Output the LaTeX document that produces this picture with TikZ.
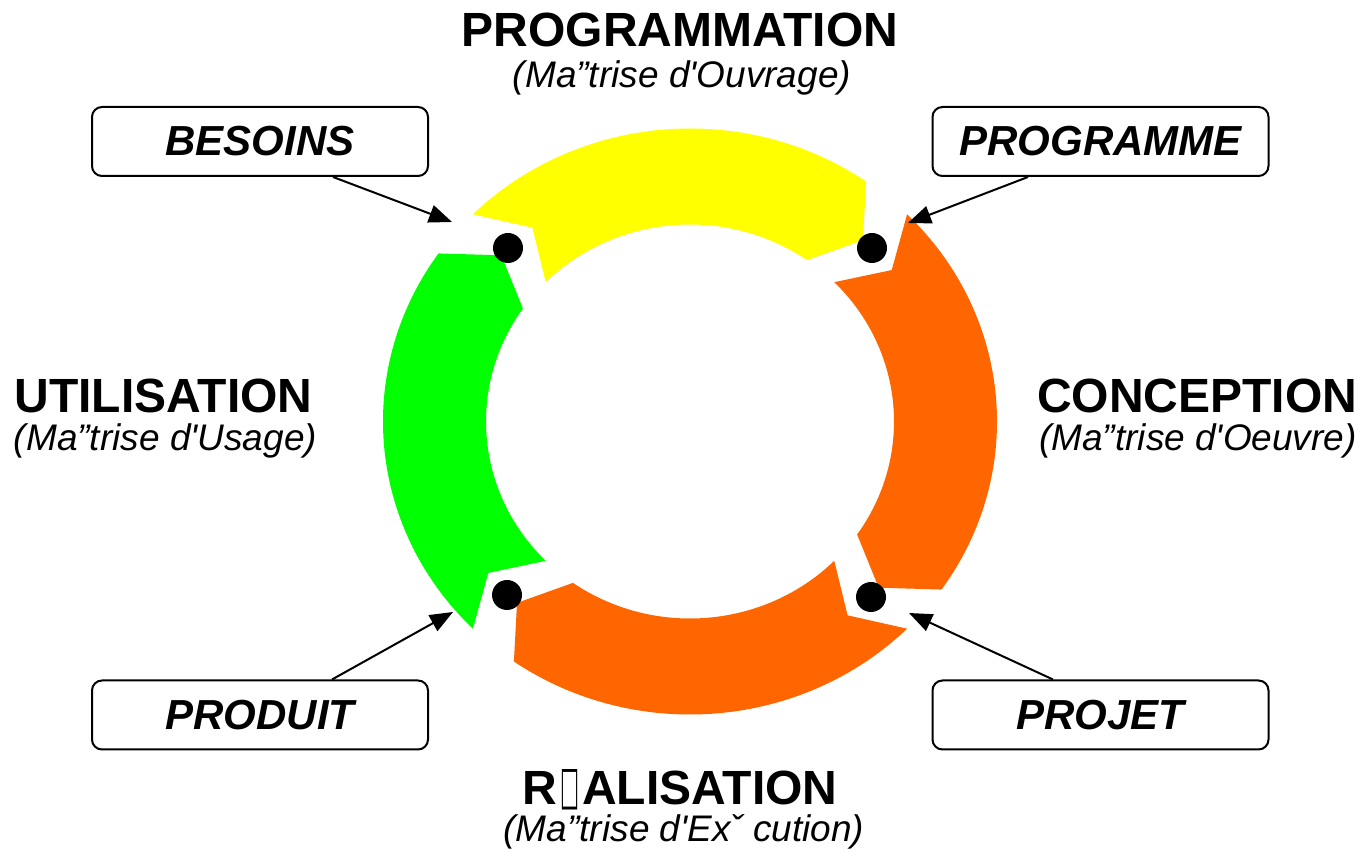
\documentclass[tikz,border=0pt]{standalone}
\usepackage{fontspec}
\setmainfont{Liberation Sans}
\newfontfamily\symfont{DejaVu Sans}
\usepackage{graphicx}
\usetikzlibrary{arrows.meta}
\definecolor{cyellow}{RGB}{255,255,0}
\definecolor{cgreen}{RGB}{0,255,0}
\definecolor{corange}{RGB}{255,102,0}
\newcommand{\ringarrow}[2]{%
  \fill[#1] ({#2}:307pt and 293pt)
    arc[start angle={#2}, end angle={#2-80}, x radius=307pt, y radius=293pt]
    -- ({#2-87.5}:256pt and 246pt)
    -- ({#2-80}:204pt and 197pt)
    arc[start angle={#2-80}, end angle={#2}, x radius=204pt, y radius=197pt]
    -- ({#2-7}:256pt and 246pt) -- cycle;}
\tikzset{
  lbl/.style={draw, line width=2pt, rounded corners=10pt, minimum width=336pt,
    minimum height=69pt, inner sep=0pt, font=\fontsize{42}{50}\selectfont\bfseries\itshape},
  ttl/.style={anchor=base, inner sep=0pt, font=\fontsize{48}{58}\selectfont\bfseries},
  sub/.style={anchor=base, inner sep=0pt, font=\fontsize{37}{44}\selectfont\itshape},
  link/.style={line width=2pt, -{Triangle[length=23pt,width=18pt]}},
  dot/.style={circle, fill=black, minimum size=30pt, inner sep=0pt}
}
\begin{document}
\begin{tikzpicture}[x=1pt,y=1pt]
\useasboundingbox (0,0) rectangle (1369,852);
\begin{scope}[shift={(690,430.5)}]
  \ringarrow{cyellow}{135}
  \ringarrow{corange}{45}
  \ringarrow{corange}{-45}
  \ringarrow{cgreen}{225}
\end{scope}
% dots
\node[dot] (d1) at (508,604) {};
\node[dot] (d2) at (872,604) {};
\node[dot] (d3) at (871,255) {};
\node[dot] (d4) at (507,257) {};
% titles
\node[ttl] (tprog) at (680,805) {PROGRAMMATION};
\node[sub] (sprog) at (682,764) {(Ma”trise d\textquotesingle Ouvrage)};
\node[ttl] (tutil) at (163.5,439) {UTILISATION};
\node[sub] (sutil) at (165.5,401) {(Ma”trise d\textquotesingle Usage)};
\node[ttl] (tconc) at (1197,439) {CONCEPTION};
\node[sub] (sconc) at (1198,401) {(Ma”trise d\textquotesingle Oeuvre)};
\node[ttl] (treal) at (680,48) {R\makebox[25pt]{\raisebox{0pt}[34pt][0pt]{\resizebox{19pt}{34pt}{\symfont □}}}ALISATION};
\node[sub] (sreal) at (684,10) {(Ma”trise d\textquotesingle Exˇ cution)};
% label boxes
\node[lbl] (besoins) at (260,710.5) {BESOINS};
\node[lbl] (programme) at (1100.5,710.5) {PROGRAMME};
\node[lbl] (produit) at (260,137) {PRODUIT};
\node[lbl] (projet) at (1100.5,137) {PROJET};
% arrow tips
\coordinate (tb) at (452,630);
\coordinate (tp) at (908,629);
\coordinate (tu) at (453,240);
\coordinate (tj) at (909,239);
\draw[link] ([xshift=73pt]besoins.south) -- (tb);
\draw[link] ([xshift=-72.5pt]programme.south) -- (tp);
\draw[link] ([xshift=72pt]produit.north) -- (tu);
\draw[link] ([xshift=-47.5pt]projet.north) -- (tj);
\end{tikzpicture}
\end{document}
